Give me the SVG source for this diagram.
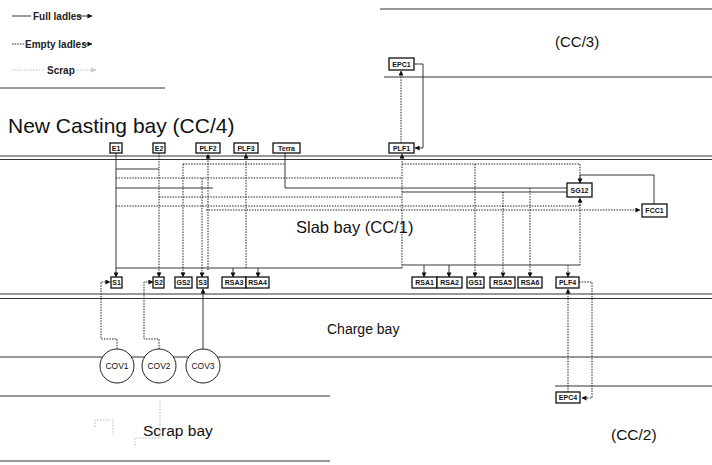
<svg xmlns="http://www.w3.org/2000/svg" width="712" height="465" viewBox="0 0 712 465">
<defs>
<style>
.bay{stroke:#333;stroke-width:1;fill:none}
.full{stroke:#222;stroke-width:0.9;fill:none}
.empty{stroke:#222;stroke-width:1;stroke-dasharray:1.5 1.2;fill:none}
.scrap{stroke:#bbb;stroke-width:1;stroke-dasharray:1.5 1.5;fill:none}
.box{fill:#fff;stroke:#111;stroke-width:1.3}
.nt{font-family:"Liberation Sans",Arial,sans-serif;font-size:7px;font-weight:bold;fill:#111;text-anchor:middle}
.big{font-family:"Liberation Sans",Arial,sans-serif;fill:#111}
.leg{font-family:"Liberation Sans",Arial,sans-serif;font-size:10px;fill:#222;font-weight:600}
.cov{fill:#fff;stroke:#222;stroke-width:1}
.ct{font-family:"Liberation Sans",Arial,sans-serif;font-size:8.5px;fill:#111;text-anchor:middle}
</style>
<marker id="ah" viewBox="0 0 6 6" refX="5.5" refY="3" markerWidth="5" markerHeight="5" orient="auto" markerUnits="userSpaceOnUse">
<path d="M0,0 L6,3 L0,6 z" fill="#111"/>
</marker>
<marker id="ahl" viewBox="0 0 6 6" refX="5.5" refY="3" markerWidth="6" markerHeight="6" orient="auto" markerUnits="userSpaceOnUse">
<path d="M0,0 L6,3 L0,6 z" fill="#ccc"/>
</marker>
</defs>
<rect width="712" height="465" fill="#fff"/>

<!-- legend -->
<g id="legend">
<line class="full" x1="12" y1="16" x2="31" y2="16"/>
<text class="leg" x="33" y="19.5">Full ladles</text>
<line class="full" x1="77" y1="16" x2="92" y2="16" marker-end="url(#ah)"/>
<line class="empty" x1="12" y1="44" x2="24" y2="44"/>
<text class="leg" x="25" y="47.5">Empty ladles</text>
<line class="empty" x1="83" y1="44" x2="92" y2="44" marker-end="url(#ah)"/>
<line class="scrap" x1="12" y1="70" x2="44" y2="70"/>
<text class="leg" x="47" y="73.5">Scrap</text>
<line class="scrap" x1="77" y1="70" x2="96" y2="70" marker-end="url(#ahl)"/>
</g>

<!-- bay lines and labels -->
<g id="bays">
<line class="bay" x1="0" y1="88" x2="165" y2="88"/>
<line class="bay" x1="380" y1="9" x2="712" y2="9"/>
<line class="bay" x1="384" y1="77" x2="712" y2="77"/>
<line class="bay" x1="0" y1="156" x2="712" y2="156"/>
<line class="bay" x1="0" y1="159.5" x2="712" y2="159.5"/>
<line class="bay" x1="0" y1="294" x2="712" y2="294"/>
<line class="bay" x1="0" y1="298.5" x2="712" y2="298.5"/>
<line class="bay" x1="0" y1="357" x2="712" y2="357"/>
<line class="bay" x1="555" y1="386" x2="712" y2="386"/>
<line class="bay" x1="0" y1="396" x2="330" y2="396"/>
<line class="bay" x1="0" y1="461" x2="330" y2="461"/>
<text class="big" x="555" y="47" font-size="15">(CC/3)</text>
<text class="big" x="8" y="133" font-size="21">New Casting bay (CC/4)</text>
<text class="big" x="296" y="233" font-size="16.5">Slab bay (CC/1)</text>
<text class="big" x="327" y="334" font-size="14">Charge bay</text>
<text class="big" x="143" y="436" font-size="15.5">Scrap bay</text>
<text class="big" x="611" y="440" font-size="15.5">(CC/2)</text>
</g>

<!-- connectors -->
<g id="connectors">
<polyline class="full" points="414,64 423,64 423,148 415,148" marker-end="url(#ah)"/>
<line class="empty" x1="401" y1="143" x2="401" y2="71" marker-end="url(#ah)"/>
<line class="empty" x1="183" y1="164" x2="285" y2="164"/>
<line class="full" x1="116" y1="169" x2="159" y2="169"/>
<line class="empty" x1="116" y1="178" x2="402" y2="178"/>
<line class="full" x1="116" y1="188" x2="213" y2="188"/>
<polyline class="full" points="285,153 285,188 580,188"/>
<line class="full" x1="402" y1="192" x2="580" y2="192"/>
<line class="empty" x1="159" y1="197" x2="402" y2="197"/>
<line class="empty" x1="116" y1="206" x2="580" y2="206" stroke-width="1.3"/>
<line class="empty" x1="206" y1="210" x2="640" y2="210" marker-end="url(#ah)"/>
<line class="empty" x1="402" y1="164" x2="580" y2="164"/>
<line class="full" x1="116" y1="268" x2="402" y2="268"/>
<line class="full" x1="402" y1="265" x2="580" y2="265"/>
<line class="full" x1="116" y1="153" x2="116" y2="277" marker-end="url(#ah)"/>
<line class="empty" x1="159" y1="153" x2="159" y2="277" marker-end="url(#ah)"/>
<line class="empty" x1="183" y1="164" x2="183" y2="277" marker-end="url(#ah)"/>
<line class="empty" x1="202" y1="178" x2="202" y2="277" marker-end="url(#ah)"/>
<line class="empty" x1="208" y1="270" x2="208" y2="154" marker-end="url(#ah)"/>
<line class="empty" x1="246" y1="268" x2="246" y2="154" marker-end="url(#ah)"/>
<line class="full" x1="233" y1="268" x2="233" y2="277" marker-end="url(#ah)"/>
<line class="full" x1="258" y1="268" x2="258" y2="277" marker-end="url(#ah)"/>
<line class="empty" x1="402" y1="268" x2="402" y2="154" marker-end="url(#ah)"/>
<line class="full" x1="424" y1="265" x2="424" y2="277" marker-end="url(#ah)"/>
<line class="full" x1="449" y1="265" x2="449" y2="277" marker-end="url(#ah)"/>
<line class="empty" x1="475" y1="164" x2="475" y2="277" marker-end="url(#ah)"/>
<line class="empty" x1="503" y1="192" x2="503" y2="277" marker-end="url(#ah)"/>
<line class="empty" x1="530" y1="188" x2="530" y2="277" marker-end="url(#ah)"/>
<line class="empty" x1="568" y1="265" x2="568" y2="277" marker-end="url(#ah)"/>
<line class="empty" x1="580" y1="164" x2="580" y2="265"/>
<line class="empty" x1="580" y1="206" x2="580" y2="198" marker-end="url(#ah)"/>
<polyline class="full" points="654,204 654,175 580,175 580,183" marker-end="url(#ah)"/>
<polyline class="empty" points="579,282 592,282 592,398 582,398" marker-end="url(#ah)"/>
<line class="empty" x1="568" y1="392" x2="568" y2="289" marker-end="url(#ah)"/>
<polyline class="empty" points="117,349 117,339 101,339 101,282 110,282" marker-end="url(#ah)"/>
<polyline class="empty" points="159,349 159,339 144,339 144,282 153,282" marker-end="url(#ah)"/>
<line class="full" x1="203" y1="349" x2="203" y2="289" marker-end="url(#ah)"/>
<polyline class="scrap" points="95,427 95,420 113,420 113,435"/>
<polyline class="scrap" points="160,400 160,438 135,438 135,447"/>
</g>

<!-- nodes -->
<g id="E1"><rect class="box" x="110" y="143" width="12" height="10"/><text class="nt" x="116" y="150.5">E1</text></g>
<g id="E2"><rect class="box" x="153" y="143" width="12" height="10"/><text class="nt" x="159" y="150.5">E2</text></g>
<g id="PLF2"><rect class="box" x="196" y="143" width="24" height="10"/><text class="nt" x="208" y="150.5">PLF2</text></g>
<g id="PLF3"><rect class="box" x="234" y="143" width="24" height="10"/><text class="nt" x="246" y="150.5">PLF3</text></g>
<g id="Terra"><rect class="box" x="273" y="143" width="27" height="10"/><text class="nt" x="286.5" y="150.5">Terra</text></g>
<g id="PLF1"><rect class="box" x="389" y="143" width="25" height="10"/><text class="nt" x="401.5" y="150.5">PLF1</text></g>
<g id="EPC1"><rect class="box" x="389" y="58" width="25" height="12"/><text class="nt" x="401.5" y="66.5">EPC1</text></g>
<g id="SG12"><rect class="box" x="567" y="183" width="25" height="14"/><text class="nt" x="579.5" y="192.5">SG12</text></g>
<g id="FCC1"><rect class="box" x="642" y="204" width="25" height="13"/><text class="nt" x="654.5" y="213">FCC1</text></g>
<g id="S1"><rect class="box" x="111" y="277" width="11" height="11"/><text class="nt" x="116.5" y="285">S1</text></g>
<g id="S2"><rect class="box" x="153" y="277" width="11" height="11"/><text class="nt" x="158.5" y="285">S2</text></g>
<g id="GS2"><rect class="box" x="175" y="277" width="17" height="11"/><text class="nt" x="183.5" y="285">GS2</text></g>
<g id="S3"><rect class="box" x="197" y="277" width="11" height="11"/><text class="nt" x="202.5" y="285">S3</text></g>
<g id="RSA3"><rect class="box" x="222" y="277" width="24" height="11"/><text class="nt" x="234" y="285">RSA3</text></g>
<g id="RSA4"><rect class="box" x="246" y="277" width="23" height="11"/><text class="nt" x="257.5" y="285">RSA4</text></g>
<g id="RSA1"><rect class="box" x="412" y="277" width="25" height="11"/><text class="nt" x="424.5" y="285">RSA1</text></g>
<g id="RSA2"><rect class="box" x="437" y="277" width="25" height="11"/><text class="nt" x="449.5" y="285">RSA2</text></g>
<g id="GS1"><rect class="box" x="467" y="277" width="17" height="11"/><text class="nt" x="475.5" y="285">GS1</text></g>
<g id="RSA5"><rect class="box" x="490" y="277" width="25" height="11"/><text class="nt" x="502.5" y="285">RSA5</text></g>
<g id="RSA6"><rect class="box" x="518" y="277" width="24" height="11"/><text class="nt" x="530" y="285">RSA6</text></g>
<g id="PLF4"><rect class="box" x="556" y="277" width="23" height="11"/><text class="nt" x="567.5" y="285">PLF4</text></g>
<g id="EPC4"><rect class="box" x="556" y="392" width="24" height="11"/><text class="nt" x="568" y="400">EPC4</text></g>
<g id="COV1"><circle class="cov" cx="117" cy="366" r="17"/><text class="ct" x="117" y="369">COV1</text></g>
<g id="COV2"><circle class="cov" cx="159" cy="366" r="17"/><text class="ct" x="159" y="369">COV2</text></g>
<g id="COV3"><circle class="cov" cx="203" cy="366" r="17"/><text class="ct" x="203" y="369">COV3</text></g>
</svg>
